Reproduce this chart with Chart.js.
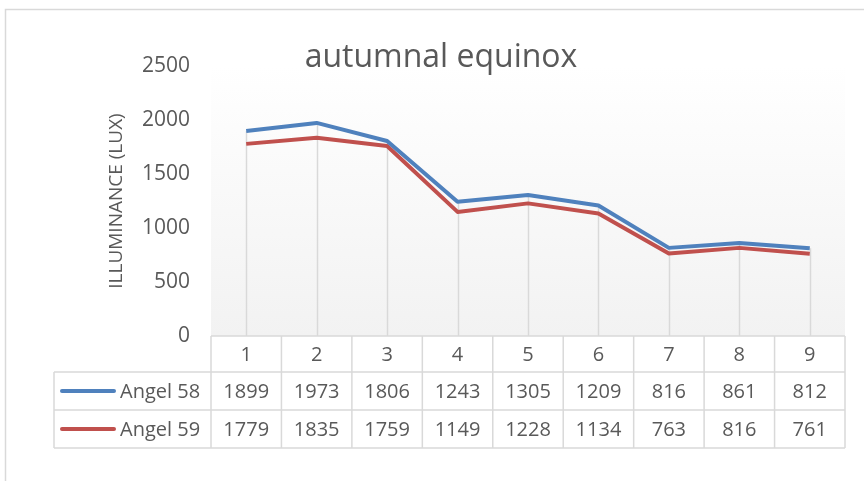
<!DOCTYPE html>
<html>
<head>
<meta charset="utf-8">
<script src="https://cdn.jsdelivr.net/npm/chart.js@4"></script>
<style>
  html, body { margin: 0; padding: 0; background: #fff; }
  #wrap { width: 864px; height: 481px; }
</style>
</head>
<body>
<div id="wrap"><canvas id="lineChart" width="864" height="481"></canvas></div>
<script>
const categories = ['1', '2', '3', '4', '5', '6', '7', '8', '9'];
const angel58 = [1899, 1973, 1806, 1243, 1305, 1209, 816, 861, 812];
const angel59 = [1779, 1835, 1759, 1149, 1228, 1134, 763, 816, 761];
const seriesNames = ['Angel 58', 'Angel 59'];
const seriesColors = ['#4f81bd', '#c0504d'];
const yTicks = [0, 500, 1000, 1500, 2000, 2500];

const textColor = '#595959';
const lineGray = '#d9d9d9';
const fontFamily = '"Open Sans", sans-serif';

// plot background, outer frame, drop lines and the data table under the axis
const dataTable = {
    id: 'dataTable',
    beforeDraw(chart) {
        const { ctx, chartArea: { left, right, top, bottom } } = chart;
        ctx.save();
        const grad = ctx.createLinearGradient(0, top, 0, bottom);
        grad.addColorStop(0, '#ffffff');
        grad.addColorStop(1, '#f2f2f2');
        ctx.fillStyle = grad;
        ctx.fillRect(left, top, right - left, bottom - top);

        ctx.strokeStyle = lineGray;
        ctx.lineWidth = 1.5;
        ctx.beginPath();
        ctx.moveTo(5.5, chart.height);
        ctx.lineTo(5.5, 9.5);
        ctx.lineTo(chart.width, 9.5);
        ctx.stroke();
        ctx.restore();
    },
    beforeDatasetsDraw(chart) {
        const { ctx, data, chartArea: { bottom }, scales: { x, y } } = chart;
        ctx.save();
        ctx.strokeStyle = lineGray;
        ctx.lineWidth = 1.5;
        ctx.beginPath();
        categories.forEach((c, i) => {
            const maxVal = Math.max(...data.datasets.map(d => d.data[i]));
            const px = Math.round(x.getPixelForValue(i)) + 0.5;
            ctx.moveTo(px, y.getPixelForValue(maxVal));
            ctx.lineTo(px, bottom);
        });
        ctx.stroke();
        ctx.restore();
    },
    afterDraw(chart) {
        const { ctx, data, chartArea: { left, right, bottom }, scales: { x } } = chart;
        const tableLeft = 54;
        const headH = 36;
        const rowH = 38;
        const cellW = (right - left) / categories.length;
        const rowsTop = bottom + headH;
        const tableBottom = rowsTop + rowH * data.datasets.length;

        ctx.save();
        ctx.strokeStyle = lineGray;
        ctx.lineWidth = 1.5;
        ctx.beginPath();
        ctx.moveTo(left, bottom);
        ctx.lineTo(right, bottom);
        for (let r = 0; r <= data.datasets.length; r++) {
            const yy = rowsTop + r * rowH;
            ctx.moveTo(tableLeft, yy);
            ctx.lineTo(right, yy);
        }
        ctx.moveTo(tableLeft, rowsTop);
        ctx.lineTo(tableLeft, tableBottom);
        for (let i = 0; i <= categories.length; i++) {
            const xx = left + i * cellW;
            ctx.moveTo(xx, bottom);
            ctx.lineTo(xx, tableBottom);
        }
        ctx.stroke();

        ctx.fillStyle = textColor;
        ctx.textAlign = 'center';
        ctx.textBaseline = 'middle';
        ctx.font = '20px ' + fontFamily;
        categories.forEach((c, i) => {
            ctx.fillText(c, x.getPixelForValue(i), bottom + headH / 2 + 1);
        });

        data.datasets.forEach((ds, r) => {
            const cy = rowsTop + r * rowH + rowH / 2 + 1;
            ctx.strokeStyle = ds.borderColor;
            ctx.lineWidth = 4;
            ctx.lineCap = 'round';
            ctx.beginPath();
            ctx.moveTo(tableLeft + 8, cy - 1);
            ctx.lineTo(tableLeft + 60, cy - 1);
            ctx.stroke();

            ctx.fillStyle = textColor;
            ctx.textAlign = 'left';
            ctx.fillText(ds.label, tableLeft + 66, cy);
            ctx.textAlign = 'center';
            ds.data.forEach((v, i) => {
                ctx.fillText(String(v), x.getPixelForValue(i), cy);
            });
        });
        ctx.restore();
    }
};

const ctx = document.getElementById('lineChart').getContext('2d');
new Chart(ctx, {
    type: 'line',
    data: {
        labels: categories,
        datasets: [
            { label: seriesNames[0], data: angel58, borderColor: seriesColors[0] },
            { label: seriesNames[1], data: angel59, borderColor: seriesColors[1] }
        ]
    },
    options: {
        responsive: false,
        animation: false,
        layout: { padding: { left: 37, right: 19, top: 0, bottom: 145 } },
        elements: {
            line: { borderWidth: 4, tension: 0, fill: false, borderJoinStyle: 'round' },
            point: { radius: 0, hoverRadius: 0 }
        },
        plugins: {
            legend: { display: false },
            tooltip: { enabled: false },
            title: {
                display: true,
                text: 'autumnal equinox',
                color: textColor,
                font: { family: fontFamily, size: 32, weight: 'normal' },
                padding: { top: 39, bottom: -11.4 }
            }
        },
        scales: {
            x: {
                type: 'category',
                display: false,
                offset: true
            },
            y: {
                min: 0,
                max: 2500,
                afterBuildTicks: s => { s.ticks = yTicks.map(v => ({ value: v })); },
                afterFit: s => { s.width = 211 - 37; },
                grid: { display: false, drawTicks: false },
                border: { display: false },
                ticks: {
                    color: textColor,
                    padding: 21,
                    font: { family: fontFamily, size: 21 },
                    callback: v => String(v)
                },
                title: {
                    display: true,
                    text: 'ILLUMINANCE (LUX)',
                    color: textColor,
                    font: { family: fontFamily, size: 19 },
                    padding: { top: 68, bottom: 0 }
                }
            }
        }
    },
    plugins: [dataTable]
});
</script>
</body>
</html>
